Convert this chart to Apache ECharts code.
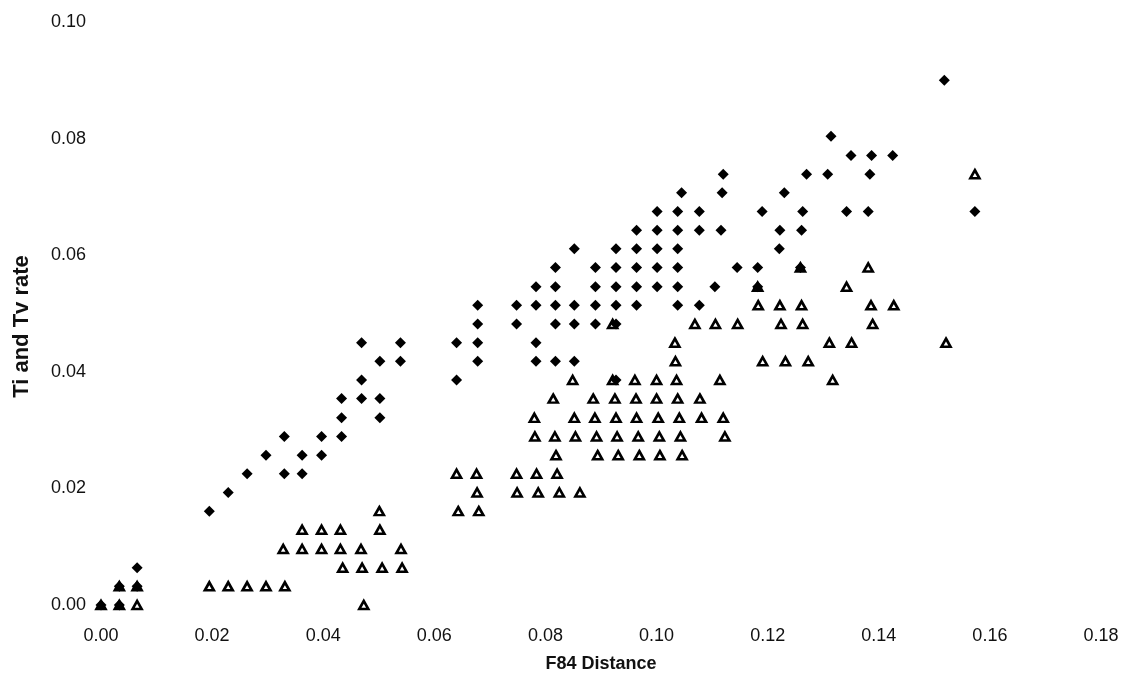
<!DOCTYPE html>
<html>
<head>
<meta charset="utf-8">
<title>Ti and Tv rate vs F84 Distance</title>
<script src="https://cdn.jsdelivr.net/npm/echarts@6/dist/echarts.min.js"></script>
<style>
  html, body { margin: 0; padding: 0; background: #ffffff; }
  #chart { width: 1127px; height: 683px; }
</style>
</head>
<body>
<div id="chart"></div>
<script>
// Transition rate (Ti) against F84 distance, one [distance, rate] pair per comparison
const tiRate = [
  [0.0000, 0.0000], [0.0033, 0.0000],
  [0.0033, 0.0032], [0.0065, 0.0032],
  [0.0065, 0.0064],
  [0.0195, 0.0161],
  [0.0229, 0.0193],
  [0.0263, 0.0225], [0.0330, 0.0225], [0.0362, 0.0225],
  [0.0297, 0.0257], [0.0362, 0.0257], [0.0397, 0.0257],
  [0.0330, 0.0289], [0.0397, 0.0289], [0.0433, 0.0289],
  [0.0433, 0.0321], [0.0502, 0.0321],
  [0.0433, 0.0354], [0.0469, 0.0354], [0.0502, 0.0354],
  [0.0469, 0.0386], [0.0640, 0.0386], [0.0927, 0.0386],
  [0.0502, 0.0418], [0.0539, 0.0418], [0.0678, 0.0418], [0.0783, 0.0418], [0.0818, 0.0418], [0.0852, 0.0418],
  [0.0469, 0.0450], [0.0539, 0.0450], [0.0640, 0.0450], [0.0678, 0.0450], [0.0783, 0.0450],
  [0.0678, 0.0482], [0.0748, 0.0482], [0.0818, 0.0482], [0.0852, 0.0482], [0.0890, 0.0482], [0.0927, 0.0482],
  [0.0678, 0.0514], [0.0748, 0.0514], [0.0783, 0.0514], [0.0818, 0.0514], [0.0852, 0.0514],
  [0.0890, 0.0514], [0.0927, 0.0514], [0.0964, 0.0514], [0.1038, 0.0514], [0.1077, 0.0514],
  [0.0783, 0.0546], [0.0818, 0.0546], [0.0890, 0.0546], [0.0927, 0.0546], [0.0964, 0.0546],
  [0.1001, 0.0546], [0.1038, 0.0546], [0.1105, 0.0546], [0.1182, 0.0546],
  [0.0818, 0.0579], [0.0890, 0.0579], [0.0927, 0.0579], [0.0964, 0.0579], [0.1001, 0.0579],
  [0.1038, 0.0579], [0.1145, 0.0579], [0.1182, 0.0579], [0.1259, 0.0579],
  [0.0852, 0.0611], [0.0927, 0.0611], [0.0964, 0.0611], [0.1001, 0.0611], [0.1038, 0.0611], [0.1221, 0.0611],
  [0.0964, 0.0643], [0.1001, 0.0643], [0.1038, 0.0643], [0.1077, 0.0643], [0.1116, 0.0643], [0.1222, 0.0643], [0.1261, 0.0643],
  [0.1001, 0.0675], [0.1038, 0.0675], [0.1077, 0.0675], [0.1190, 0.0675], [0.1263, 0.0675],
  [0.1342, 0.0675], [0.1381, 0.0675], [0.1573, 0.0675],
  [0.1045, 0.0707], [0.1118, 0.0707], [0.1230, 0.0707],
  [0.1120, 0.0739], [0.1270, 0.0739], [0.1308, 0.0739], [0.1384, 0.0739],
  [0.1350, 0.0771], [0.1387, 0.0771], [0.1425, 0.0771],
  [0.1314, 0.0804],
  [0.1518, 0.0900]
];

// Transversion rate (Tv) against F84 distance
const tvRate = [
  [0.0000, 0.0000], [0.0033, 0.0000], [0.0065, 0.0000], [0.0473, 0.0000],
  [0.0033, 0.0032], [0.0065, 0.0032], [0.0195, 0.0032], [0.0229, 0.0032], [0.0263, 0.0032], [0.0297, 0.0032], [0.0331, 0.0032],
  [0.0435, 0.0064], [0.0470, 0.0064], [0.0506, 0.0064], [0.0542, 0.0064],
  [0.0328, 0.0096], [0.0362, 0.0096], [0.0397, 0.0096], [0.0431, 0.0096], [0.0468, 0.0096], [0.0540, 0.0096],
  [0.0362, 0.0129], [0.0397, 0.0129], [0.0431, 0.0129], [0.0502, 0.0129],
  [0.0501, 0.0161], [0.0643, 0.0161], [0.0680, 0.0161],
  [0.0677, 0.0193], [0.0749, 0.0193], [0.0787, 0.0193], [0.0825, 0.0193], [0.0862, 0.0193],
  [0.0640, 0.0225], [0.0676, 0.0225], [0.0748, 0.0225], [0.0784, 0.0225], [0.0821, 0.0225],
  [0.0819, 0.0257], [0.0894, 0.0257], [0.0931, 0.0257], [0.0969, 0.0257], [0.1006, 0.0257], [0.1046, 0.0257],
  [0.0781, 0.0289], [0.0817, 0.0289], [0.0854, 0.0289], [0.0892, 0.0289], [0.0929, 0.0289],
  [0.0967, 0.0289], [0.1005, 0.0289], [0.1043, 0.0289], [0.1123, 0.0289],
  [0.0780, 0.0321], [0.0852, 0.0321], [0.0889, 0.0321], [0.0927, 0.0321], [0.0964, 0.0321],
  [0.1003, 0.0321], [0.1041, 0.0321], [0.1081, 0.0321], [0.1120, 0.0321],
  [0.0814, 0.0354], [0.0886, 0.0354], [0.0925, 0.0354], [0.0963, 0.0354], [0.1000, 0.0354], [0.1038, 0.0354], [0.1078, 0.0354],
  [0.0849, 0.0386], [0.0921, 0.0386], [0.0961, 0.0386], [0.1000, 0.0386], [0.1036, 0.0386], [0.1114, 0.0386], [0.1317, 0.0386],
  [0.1034, 0.0418], [0.1191, 0.0418], [0.1232, 0.0418], [0.1273, 0.0418],
  [0.1033, 0.0450], [0.1311, 0.0450], [0.1351, 0.0450], [0.1521, 0.0450],
  [0.0921, 0.0482], [0.1069, 0.0482], [0.1106, 0.0482], [0.1146, 0.0482], [0.1224, 0.0482], [0.1263, 0.0482], [0.1389, 0.0482],
  [0.1183, 0.0514], [0.1222, 0.0514], [0.1261, 0.0514], [0.1386, 0.0514], [0.1427, 0.0514],
  [0.1182, 0.0546], [0.1342, 0.0546],
  [0.1259, 0.0579], [0.1381, 0.0579],
  [0.1573, 0.0739]
];

// Axis ranges and titles
const xRange = { min: 0, max: 0.18, step: 0.02 };
const yRange = { min: 0, max: 0.10, step: 0.02 };
const xTitle = 'F84 Distance';
const yTitle = 'Ti and Tv rate';

const fontFamily = '"Liberation Sans", Arial, Helvetica, sans-serif';
const inkColor = '#111111';

const chart = echarts.init(document.getElementById('chart'), null, { renderer: 'canvas' });

const tickLabel = {
  color: inkColor,
  fontFamily: fontFamily,
  fontSize: 18,
  formatter: v => v.toFixed(2)
};

chart.setOption({
  animation: false,
  backgroundColor: '#ffffff',
  grid: { left: 101, right: 26, top: 22, bottom: 78, containLabel: false },
  xAxis: {
    type: 'value',
    min: xRange.min, max: xRange.max, interval: xRange.step,
    name: xTitle,
    nameLocation: 'middle',
    nameGap: 50,
    nameTextStyle: { color: inkColor, fontFamily: fontFamily, fontSize: 18, fontWeight: 'bold' },
    axisLine: { show: false },
    axisTick: { show: false },
    splitLine: { show: false },
    axisLabel: Object.assign({ margin: 22 }, tickLabel)
  },
  yAxis: {
    type: 'value',
    min: yRange.min, max: yRange.max, interval: yRange.step,
    name: yTitle,
    nameLocation: 'middle',
    nameGap: 68,
    nameRotate: 90,
    nameTextStyle: {
      color: inkColor, fontFamily: fontFamily, fontSize: 22, fontWeight: 'bold',
      padding: [0, 26, 0, 0]
    },
    axisLine: { show: false },
    axisTick: { show: false },
    splitLine: { show: false },
    axisLabel: Object.assign({ margin: 15 }, tickLabel)
  },
  series: [
    {
      name: 'Tv',
      type: 'scatter',
      data: tvRate,
      symbol: 'triangle',
      symbolSize: [9, 8],
      itemStyle: { color: '#ffffff', borderColor: '#000000', borderWidth: 2.6, opacity: 1 },
      z: 2
    },
    {
      name: 'Ti',
      type: 'scatter',
      data: tiRate,
      symbol: 'diamond',
      symbolSize: [11, 11],
      itemStyle: { color: '#000000', opacity: 1 },
      z: 3
    }
  ]
});
</script>
</body>
</html>
